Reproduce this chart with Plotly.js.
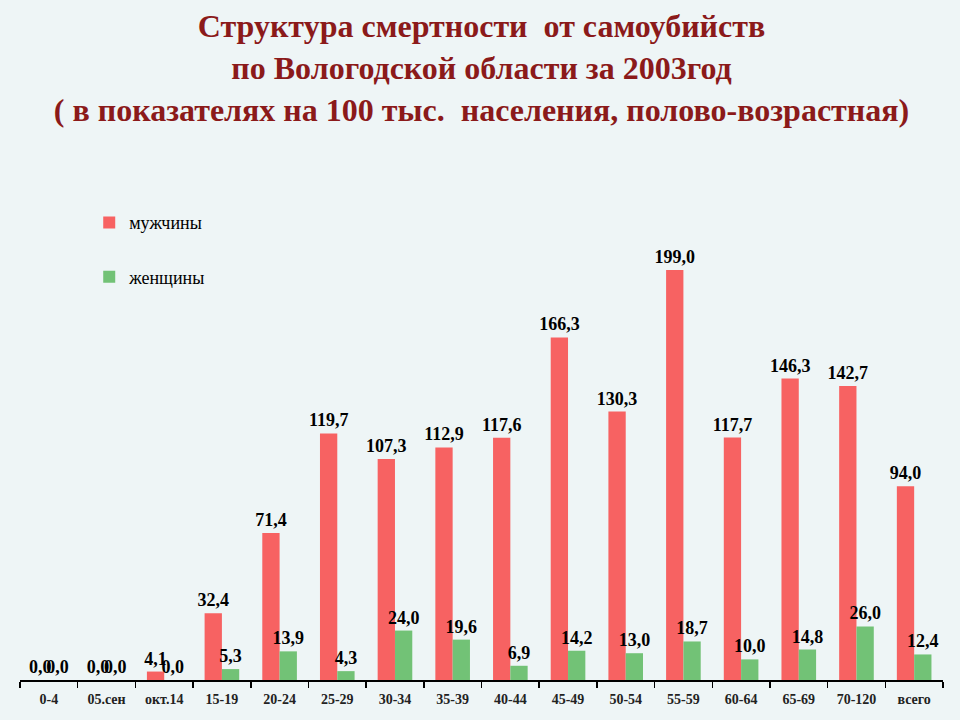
<!DOCTYPE html>
<html>
<head>
<meta charset="utf-8">
<script src="https://cdn.plot.ly/plotly-3.0.1.min.js"></script>
<style>html,body{margin:0;padding:0;background:#eef5f6;}</style>
</head>
<body>
<div id="chart" style="width:960px;height:720px;"></div>
<script>
const categories = ['0-4','05.сен','окт.14','15-19','20-24','25-29','30-34','35-39','40-44','45-49','50-54','55-59','60-64','65-69','70-120','всего'];
const men = [0.0, 0.0, 4.1, 32.4, 71.4, 119.7, 107.3, 112.9, 117.6, 166.3, 130.3, 199.0, 117.7, 146.3, 142.7, 94.0];
const women = [0.0, 0.0, 0.0, 5.3, 13.9, 4.3, 24.0, 19.6, 6.9, 14.2, 13.0, 18.7, 10.0, 14.8, 26.0, 12.4];
const seriesNames = ['мужчины', 'женщины'];

const labelFont = {family: 'Liberation Serif, Times New Roman, serif', size: 18, color: '#000', weight: 'bold'};

const traces = [
  {
    type: 'bar', x: categories, y: men, name: seriesNames[0], legendgroup: 'm',
    marker: {color: '#f76262'},
    texttemplate: '%{y:.1f}', textposition: 'outside', textfont: labelFont,
    constraintext: 'none', cliponaxis: false, hoverinfo: 'x+y'
  },
  {
    type: 'bar', x: categories, y: women, name: seriesNames[1], legendgroup: 'w',
    marker: {color: '#72c276'},
    texttemplate: '%{y:.1f}', textposition: 'outside', textfont: labelFont,
    constraintext: 'none', cliponaxis: false, hoverinfo: 'x+y'
  }
];

const layout = {
  width: 960, height: 720,
  paper_bgcolor: '#eef5f6', plot_bgcolor: '#eef5f6',
  separators: ', ',
  margin: {l: 20, r: 17, t: 160, b: 40},
  title: {
    text: 'Структура смертности  от самоубийств<br>по Вологодской области за 2003год<br>( в показателях на 100 тыс.  населения, полово-возрастная)',
    font: {family: 'Liberation Serif, Times New Roman, serif', size: 32, color: '#8b1a1a', weight: 'bold'},
    x: 0.5, xanchor: 'center', y: 0.948, yanchor: 'top', xref: 'paper'
  },
  barmode: 'group', bargap: 0.4, bargroupgap: 0,
  showlegend: true,
  legend: {
    x: 0.075, y: 0.915, xanchor: 'left', yanchor: 'top',
    traceorder: 'grouped', tracegroupgap: 28,
    bgcolor: 'rgba(0,0,0,0)',
    font: {family: 'Liberation Serif, Times New Roman, serif', size: 18, color: '#000'}
  },
  xaxis: {
    type: 'category', showline: true, linecolor: '#000', linewidth: 1.5,
    ticks: 'outside', tickson: 'boundaries', ticklen: 6, tickcolor: '#000', tickwidth: 1.5,
    ticklabelstandoff: 6,
    tickfont: {family: 'Liberation Serif, Times New Roman, serif', size: 14, color: '#222', weight: 'bold'},
    showgrid: false, zeroline: false, fixedrange: true
  },
  yaxis: {
    range: [0, 252.4], visible: false, showgrid: false, zeroline: false, fixedrange: true
  }
};

Plotly.newPlot('chart', traces, layout, {displayModeBar: false, staticPlot: true});
</script>
</body>
</html>
